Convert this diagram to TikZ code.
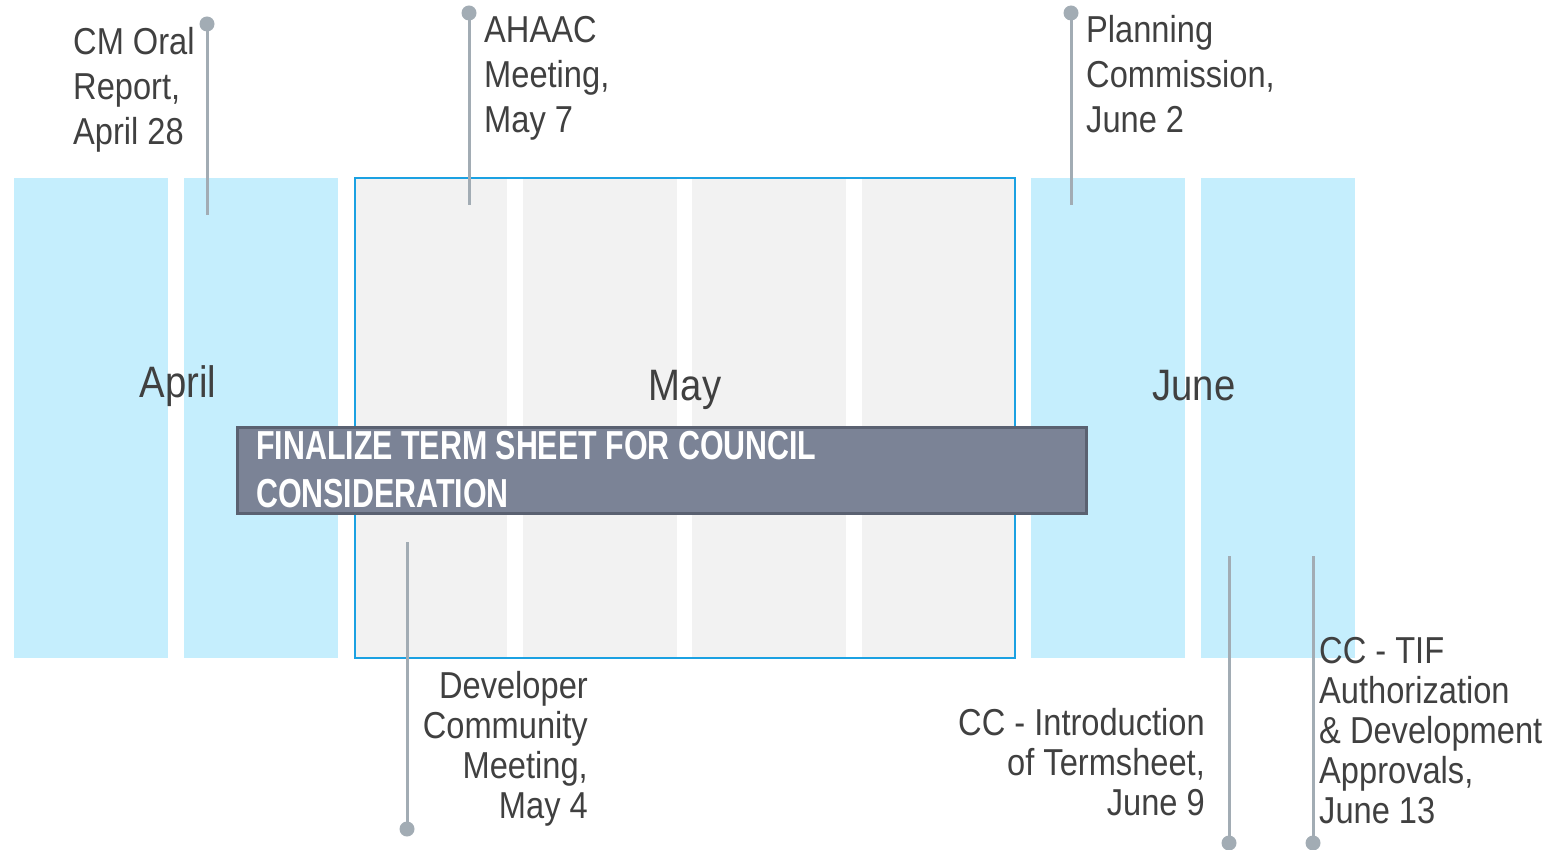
\documentclass[tikz,border=0pt]{standalone}
\usepackage{fontspec}
\setmainfont{Liberation Sans}[FakeStretch=0.87]
\newfontfamily\bannerfont{Liberation Sans}[FakeStretch=0.75]

\definecolor{monthblue}{HTML}{C5EEFD}
\definecolor{weekgray}{HTML}{F2F2F2}
\definecolor{frameblue}{HTML}{1BA1E2}
\definecolor{bannerfill}{HTML}{7B8396}
\definecolor{bannerline}{HTML}{5A6171}
\definecolor{pin}{HTML}{A2ACB4}
\definecolor{ink}{HTML}{404040}

\tikzset{
  labeltext/.style={inner sep=0pt, text=ink, font=\fontsize{37.5}{45}\selectfont},
  lowtext/.style={inner sep=0pt, text=ink, font=\fontsize{37.5}{40}\selectfont},
  monthtext/.style={inner sep=0pt, text=ink, font=\fontsize{44}{50}\selectfont, anchor=base},
  pindot/.style={circle, fill=pin, inner sep=0pt, minimum size=15pt},
  pinline/.style={draw=pin, line width=3pt},
}

\begin{document}
\begin{tikzpicture}[x=1pt, y=-1pt]
  \useasboundingbox (0,0) rectangle (1544,850);

  % April weeks
  \fill[monthblue] (14,178) rectangle (168,658);
  \fill[monthblue] (184,178) rectangle (338,658);
  % May weeks
  \fill[weekgray] (355,178) rectangle (507,658);
  \fill[weekgray] (523,178) rectangle (677,658);
  \fill[weekgray] (692,178) rectangle (846,658);
  \fill[weekgray] (862,178) rectangle (1015,658);
  \draw[frameblue, line width=2pt] (355,178) rectangle (1015,658);
  % June weeks
  \fill[monthblue] (1031,178) rectangle (1185,658);
  \fill[monthblue] (1201,178) rectangle (1355,658);

  % month names
  \node[monthtext] (april) at (178,397) {April};
  \node[monthtext] (may) at (685,400) {May};
  \node[monthtext] (june) at (1194,400) {June};

  % task banner
  \node[draw=bannerline, fill=bannerfill, line width=2.5pt,
        minimum width=849pt, minimum height=86pt, inner sep=0pt,
        anchor=north west] (banner) at (236,426) {};
  \node[inner sep=0pt, anchor=base west, text=white,
        font=\bannerfont\bfseries\fontsize{40.5}{48}\selectfont] (bannertext) at (256,459)
    {\begin{tabular}[t]{@{}l@{}}FINALIZE TERM SHEET FOR COUNCIL\\CONSIDERATION\end{tabular}};

  % milestones above the timeline
  \node[pindot] (cmdot) at (207,24) {};
  \coordinate (cmend) at (207,215);
  \draw[pinline] (cmdot.center) -- (cmend);
  \node[labeltext, anchor=base west] (cm) at (73,55)
    {\begin{tabular}[t]{@{}l@{}}CM Oral\\Report,\\April 28\end{tabular}};

  \node[pindot] (ahdot) at (469,13) {};
  \coordinate (ahend) at (469,205);
  \draw[pinline] (ahdot.center) -- (ahend);
  \node[labeltext, anchor=base west] (ahaac) at (484,43)
    {\begin{tabular}[t]{@{}l@{}}AHAAC\\Meeting,\\May 7\end{tabular}};

  \node[pindot] (pcdot) at (1071,13) {};
  \coordinate (pcend) at (1071,205);
  \draw[pinline] (pcdot.center) -- (pcend);
  \node[labeltext, anchor=base west] (pc) at (1086,43)
    {\begin{tabular}[t]{@{}l@{}}Planning\\Commission,\\June 2\end{tabular}};

  % milestones below the timeline
  \coordinate (devstart) at (407,542);
  \node[pindot] (devdot) at (407,829) {};
  \draw[pinline] (devstart) -- (devdot.center);
  \node[lowtext, anchor=base east] (dev) at (588,698)
    {\begin{tabular}[t]{@{}r@{}}Developer\\Community\\Meeting,\\May 4\end{tabular}};

  \coordinate (introstart) at (1229,556);
  \node[pindot] (introdot) at (1229,843) {};
  \draw[pinline] (introstart) -- (introdot.center);
  \node[lowtext, anchor=base east] (intro) at (1205,735)
    {\begin{tabular}[t]{@{}r@{}}CC - Introduction\\of Termsheet,\\June 9\end{tabular}};

  \coordinate (tifstart) at (1313,556);
  \node[pindot] (tifdot) at (1313,843) {};
  \draw[pinline] (tifstart) -- (tifdot.center);
  \node[lowtext, anchor=base west] (tif) at (1319,663)
    {\begin{tabular}[t]{@{}l@{}}CC - TIF\\Authorization\\\& Development\\Approvals,\\June 13\end{tabular}};
\end{tikzpicture}
\end{document}
